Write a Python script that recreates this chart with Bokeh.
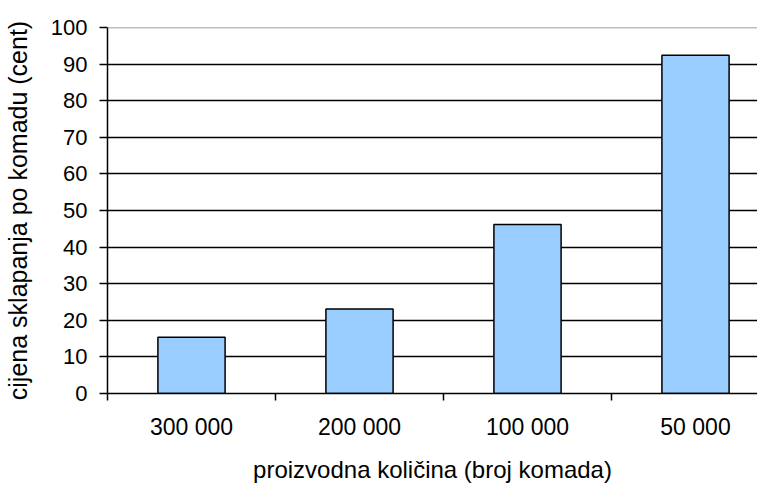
import numpy as np
from bokeh.plotting import figure
from bokeh.models import Range1d, FixedTicker, Span, ColumnDataSource
from bokeh.embed import file_html
from bokeh.resources import INLINE

categories = ["300 000", "200 000", "100 000", "50 000"]
values = [15.4, 23.1, 46.2, 92.4]
y_ticks = [0, 10, 20, 30, 40, 50, 60, 70, 80, 90, 100]

FONT = "Liberation Sans"

xpos = np.arange(len(categories)) + 0.5
src = ColumnDataSource(dict(x=xpos, top=values))

p = figure(width=757, height=485, output_backend="svg", toolbar_location=None,
           x_range=Range1d(0, 3.869), y_range=Range1d(0, 100),
           min_border_left=107, min_border_right=0, min_border_top=27, min_border_bottom=84)
p.outline_line_color = None
p.background_fill_color = "white"
p.border_fill_color = "white"

p.vbar(x="x", top="top", bottom=0, width=0.4, source=src,
       fill_color="#99CCFF", line_color="black", line_width=1.5)

# grid
p.xgrid.visible = False
p.ygrid.ticker = FixedTicker(ticks=y_ticks[:-1])
p.ygrid.grid_line_color = "black"
p.ygrid.grid_line_width = 1.4
p.ygrid.level = "underlay"
p.add_layout(Span(location=100, dimension="width", line_color="#808080", line_width=1.5))

# x axis
xa = p.xaxis[0]
xa.ticker = FixedTicker(ticks=list(xpos), minor_ticks=list(range(len(categories) + 1)))
xa.major_label_overrides = {float(v): c for v, c in zip(xpos, categories)}
xa.major_tick_out = 0
xa.major_tick_in = 0
xa.minor_tick_out = 7
xa.minor_tick_in = 0
xa.minor_tick_line_color = "black"
xa.minor_tick_line_width = 1.5
xa.axis_line_color = "black"
xa.axis_line_width = 1.5
xa.major_label_text_font = FONT
xa.major_label_text_font_size = "23px"
xa.major_label_text_color = "black"
xa.major_label_text_line_height = 1.0
xa.major_label_standoff = 13
xa.axis_label = "proizvodna količina (broj komada)"
xa.axis_label_text_font = FONT
xa.axis_label_text_font_size = "24px"
xa.axis_label_text_font_style = "normal"
xa.axis_label_text_color = "black"
xa.axis_label_text_line_height = 1.0
xa.axis_label_standoff = 13

# y axis
ya = p.yaxis[0]
ya.ticker = FixedTicker(ticks=y_ticks)
ya.major_tick_out = 8
ya.major_tick_in = 0
ya.minor_tick_out = 0
ya.minor_tick_in = 0
ya.major_tick_line_color = "black"
ya.major_tick_line_width = 1.5
ya.axis_line_color = "black"
ya.axis_line_width = 1.5
ya.major_label_text_font = FONT
ya.major_label_text_font_size = "22px"
ya.major_label_text_color = "black"
ya.major_label_standoff = 12
ya.axis_label = "cijena sklapanja po komadu (cent)"
ya.axis_label_text_font = FONT
ya.axis_label_text_font_size = "25px"
ya.axis_label_text_font_style = "normal"
ya.axis_label_text_color = "black"
ya.axis_label_standoff = 16

open("out.html", "w").write(file_html(p, INLINE))
